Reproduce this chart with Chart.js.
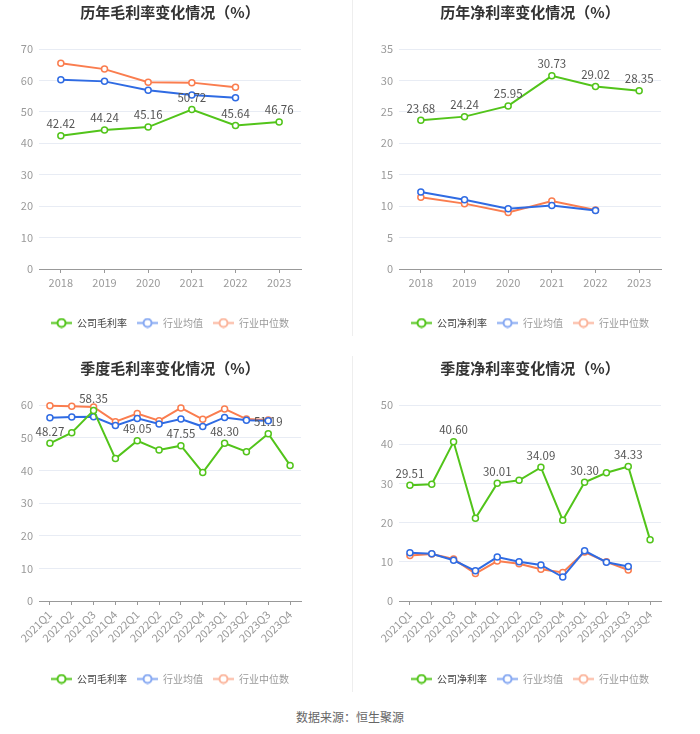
<!DOCTYPE html>
<html>
<head>
<meta charset="utf-8">
<script src="https://cdn.jsdelivr.net/npm/chart.js@4.4.1/dist/chart.umd.min.js"></script>
<style>
  html, body { margin: 0; padding: 0; background: #fff; }
  body { width: 700px; height: 734px; position: relative; overflow: hidden; font-family: 'Noto Sans CJK SC', sans-serif; }
  .panel { position: absolute; width: 350px; height: 338px; }
  .vline { position: absolute; left: 352px; width: 1px; background: #eeeeee; }
  #source { position: absolute; left: 0; width: 700px; top: 708px; text-align: center; font-size: 12px; color: #666; line-height: 18px; }
</style>
</head>
<body>
<div class="vline" style="top:0px;height:336px;"></div>
<div class="vline" style="top:356px;height:336px;"></div>
<div class="panel" style="left:0px;top:0px;"><canvas id="c1" width="350" height="338"></canvas></div>
<div class="panel" style="left:360px;top:0px;"><canvas id="c2" width="350" height="338"></canvas></div>
<div class="panel" style="left:0px;top:356px;"><canvas id="c3" width="350" height="338"></canvas></div>
<div class="panel" style="left:360px;top:356px;"><canvas id="c4" width="350" height="338"></canvas></div>
<div id="source">数据来源：恒生聚源</div>
<script>
// ---------- data ----------
const years = ['2018', '2019', '2020', '2021', '2022', '2023'];
const quarters = ['2021Q1', '2021Q2', '2021Q3', '2021Q4', '2022Q1', '2022Q2', '2022Q3', '2022Q4', '2023Q1', '2023Q2', '2023Q3', '2023Q4'];

const annualGrossCompany = [42.42, 44.24, 45.16, 50.72, 45.64, 46.76];
const annualGrossAvg = [60.2, 59.7, 56.9, 55.4, 54.5, null];
const annualGrossMedian = [65.5, 63.6, 59.4, 59.3, 57.8, null];

const annualNetCompany = [23.68, 24.24, 25.95, 30.73, 29.02, 28.35];
const annualNetAvg = [12.25, 11.0, 9.6, 10.1, 9.3, null];
const annualNetMedian = [11.4, 10.4, 9.0, 10.8, 9.4, null];

const quarterGrossCompany = [48.27, 51.5, 58.35, 43.6, 49.05, 46.2, 47.55, 39.3, 48.30, 45.7, 51.19, 41.5];
const quarterGrossAvg = [56.1, 56.3, 56.4, 53.7, 55.9, 54.2, 55.7, 53.4, 56.2, 55.3, 55.2, null];
const quarterGrossMedian = [59.8, 59.6, 59.4, 54.9, 57.4, 55.2, 59.1, 55.6, 58.8, 55.7, 55.4, null];

const quarterNetCompany = [29.51, 29.8, 40.60, 21.1, 30.01, 30.8, 34.09, 20.6, 30.30, 32.7, 34.33, 15.6];
const quarterNetAvg = [12.3, 12.05, 10.4, 7.7, 11.2, 10.0, 9.2, 6.1, 12.8, 9.9, 8.8, null];
const quarterNetMedian = [11.6, 12.0, 10.7, 7.0, 10.2, 9.5, 8.1, 7.3, 12.5, 10.0, 7.9, null];

const annualLabelIdx = [0, 1, 2, 3, 4, 5];
const quarterLabelIdx = [0, 2, 4, 6, 8, 10];

// ---------- style ----------
const GREEN = '#52c41a', BLUE = '#2f6be3', ORANGE = '#fa7d4f';
const BLUE_L = '#86a8f2', ORANGE_L = '#fbb59c';
const FONT = "'Noto Sans CJK SC', 'Liberation Sans', sans-serif";

function marker(color) {
  const c = document.createElement('canvas');
  c.width = 21; c.height = 11;
  const x = c.getContext('2d');
  x.strokeStyle = color; x.lineWidth = 2;
  x.beginPath(); x.moveTo(0, 5.5); x.lineTo(21, 5.5); x.stroke();
  x.beginPath(); x.arc(10.5, 5.5, 4, 0, Math.PI * 2);
  x.fillStyle = '#fff'; x.fill(); x.stroke();
  return c;
}
const markers = [marker(GREEN), marker(BLUE_L), marker(ORANGE_L)];
const legendColors = ['#444', '#999', '#999'];

const labelPlugin = {
  id: 'valueLabels',
  afterDatasetsDraw(chart, args, opts) {
    const meta = chart.getDatasetMeta(0);
    const data = chart.data.datasets[0].data;
    const ctx = chart.ctx;
    ctx.save();
    ctx.font = '11.5px ' + FONT;
    ctx.fillStyle = '#555';
    ctx.textAlign = 'center';
    ctx.textBaseline = 'middle';
    opts.idx.forEach(i => {
      const p = meta.data[i];
      if (!p || data[i] == null) return;
      ctx.fillText(data[i].toFixed(2), p.x, p.y - 12);
    });
    ctx.restore();
  }
};

function ds(label, data, color) {
  return {
    label, data, borderColor: color, backgroundColor: '#fff',
    borderWidth: 2, pointRadius: 3, pointBorderWidth: 1.5, pointBackgroundColor: '#fff',
    pointBorderColor: color, tension: 0, spanGaps: false, clip: false
  };
}

function makeChart(id, title, cats, comp, avg, med, compName, yMax, yStep, labelIdx, rotated) {
  new Chart(document.getElementById(id), {
    type: 'line',
    data: {
      labels: cats,
      datasets: [ds(compName, comp, GREEN), ds('行业均值', avg, BLUE), ds('行业中位数', med, ORANGE)]
    },
    options: {
      responsive: false,
      animation: false,
      layout: { padding: { left: 0, right: 49, top: 0, bottom: 0 } },
      scales: {
        x: {
          offset: true,
          grid: { drawOnChartArea: false, drawTicks: true, tickLength: 4, offset: false, color: '#999' },
          border: { color: '#999', width: 1 },
          ticks: {
            color: '#9a9a9a', font: { size: 11, family: FONT }, padding: 3,
            autoSkip: false,
            maxRotation: rotated ? 45 : 0, minRotation: rotated ? 45 : 0
          },
          afterFit: s => { s.height = rotated ? 63 : 39; }
        },
        y: {
          min: 0, max: yMax,
          grid: { color: '#e8ecf4', drawTicks: false },
          border: { display: false },
          ticks: { stepSize: yStep, color: '#9a9a9a', font: { size: 11, family: FONT }, padding: 6 },
          afterFit: s => { s.width = 39; }
        }
      },
      plugins: {
        title: {
          display: true, text: title, fullSize: false,
          color: '#333', font: { size: 15, weight: 'bold', family: FONT, lineHeight: 1.2 },
          padding: { top: 3, bottom: 28 }
        },
        legend: {
          position: 'bottom', fullSize: false,
          labels: {
            usePointStyle: true, pointStyleWidth: 21, padding: 10,
            font: { size: 10, family: FONT },
            generateLabels: chart => chart.data.datasets.map((d, i) => ({
              text: d.label, pointStyle: markers[i], fontColor: legendColors[i],
              fillStyle: '#fff', strokeStyle: d.borderColor, lineWidth: 0,
              hidden: false, datasetIndex: i
            }))
          }
        },
        tooltip: { enabled: false },
        valueLabels: { idx: labelIdx }
      }
    },
    plugins: [labelPlugin]
  });
}

makeChart('c1', '历年毛利率变化情况（%）', years, annualGrossCompany, annualGrossAvg, annualGrossMedian, '公司毛利率', 70, 10, annualLabelIdx, false);
makeChart('c2', '历年净利率变化情况（%）', years, annualNetCompany, annualNetAvg, annualNetMedian, '公司净利率', 35, 5, annualLabelIdx, false);
makeChart('c3', '季度毛利率变化情况（%）', quarters, quarterGrossCompany, quarterGrossAvg, quarterGrossMedian, '公司毛利率', 60, 10, quarterLabelIdx, true);
makeChart('c4', '季度净利率变化情况（%）', quarters, quarterNetCompany, quarterNetAvg, quarterNetMedian, '公司净利率', 50, 10, quarterLabelIdx, true);
</script>
</body>
</html>
